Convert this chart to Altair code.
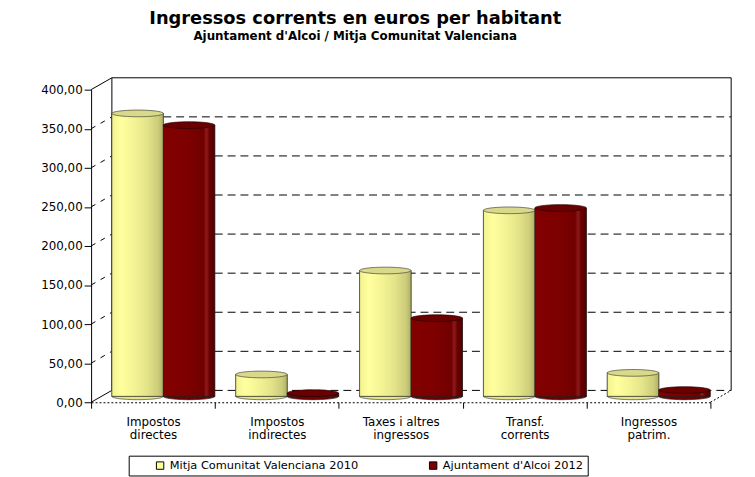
import altair as alt
import pandas as pd

# ---- data ----
categories = ["Impostos\ndirectes", "Impostos\nindirectes", "Taxes i altres\ningressos",
              "Transf.\ncorrents", "Ingressos\npatrim."]
series = ["Mitja Comunitat Valenciana 2010", "Ajuntament d'Alcoi 2012"]
cv_2010 = [362, 28, 161, 238, 30]
alcoi_2012 = [347, 4, 100, 241, 8]
y_ticks = [0, 50, 100, 150, 200, 250, 300, 350, 400]
colors = ["#ffff99", "#800000"]

rows = []
for c, a, b in zip(categories, cv_2010, alcoi_2012):
    rows.append({"cat": c, "serie": series[0], "value": a})
    rows.append({"cat": c, "serie": series[1], "value": b})
df = pd.DataFrame(rows)
ticks_df = pd.DataFrame({"v": y_ticks})

W, H = 626, 316
DX, DY = 21, -12      # depth of the 3D box
BY = -6               # bars sit half way in depth
FONT = "DejaVu Sans"

x_axis = alt.Axis(title=None, labelExpr="split(datum.label, '\\n')", labelAngle=0,
                  labelFont=FONT, labelFontSize=12, labelLineHeight=13.5,
                  labelPadding=8, labelColor="black", tickBand="extent",
                  tickSize=6, tickColor="black", domainColor="black",
                  domainDash=[2, 2], domainWidth=1, labelLimit=200)
y_axis = alt.Axis(title=None, values=y_ticks,
                  labelExpr="replace(format(datum.value, '.2f'), '.', ',')",
                  labelFont=FONT, labelFontSize=12, labelColor="black",
                  tickSize=7, tickColor="black", domainColor="black",
                  grid=False, labelPadding=2, labelOverlap=False, labelFlush=False)
y_scale = alt.Scale(domain=[0, 400], nice=False)

x_enc = alt.X("cat:N", sort=categories,
              scale=alt.Scale(paddingInner=0, paddingOuter=0), axis=x_axis)
xo_enc = alt.XOffset("serie:N", sort=series,
                     scale=alt.Scale(range=[21, 125], paddingInner=0, paddingOuter=0))
y_enc = alt.Y("value:Q", stack=None, scale=y_scale, axis=y_axis)
yv = alt.Y("v:Q", scale=y_scale, axis=y_axis)
y_top = alt.Y(datum=400, scale=y_scale, axis=y_axis)
y_zero = alt.Y(datum=0, scale=y_scale, axis=y_axis)

base_t = alt.Chart(ticks_df)

# back wall grid (dashed) and edges (solid)
grid = base_t.transform_filter("datum.v < 400").mark_rule(
    color="black", strokeWidth=1, strokeDash=[8, 5], yOffset=DY
).encode(y=yv, x=alt.value(DX), x2=alt.value(W + DX))
top_edge = base_t.transform_filter("datum.v == 400").mark_rule(
    color="black", strokeWidth=1, yOffset=DY
).encode(y=yv, x=alt.value(DX), x2=alt.value(W + DX))
left_back = base_t.transform_filter("datum.v == 0").mark_rule(
    color="black", strokeWidth=1, yOffset=DY, y2Offset=DY
).encode(x=alt.value(DX), y=y_top, y2=alt.Y2(datum=0))
right_back = base_t.transform_filter("datum.v == 0").mark_rule(
    color="black", strokeWidth=1, yOffset=DY, y2Offset=DY
).encode(x=alt.value(W + DX), y=y_top, y2=alt.Y2(datum=0))
# side wall depth lines
side_dash = base_t.transform_filter("datum.v > 0 && datum.v < 400").mark_rule(
    color="black", strokeWidth=1, strokeDash=[5, 6], y2Offset=DY
).encode(x=alt.value(0), x2=alt.value(DX), y=yv, y2=alt.Y2("v:Q"))
side_solid = base_t.transform_filter("datum.v == 0 || datum.v == 400").mark_rule(
    color="black", strokeWidth=1, y2Offset=DY
).encode(x=alt.value(0), x2=alt.value(DX), y=yv, y2=alt.Y2("v:Q"))
floor_right = base_t.transform_filter("datum.v == 0").mark_rule(
    color="black", strokeWidth=1, strokeDash=[2, 2], y2Offset=DY
).encode(x=alt.value(W), x2=alt.value(W + DX), y=yv, y2=alt.Y2("v:Q"))

ELL = "M -1 0 A 1 0.13 0 1 0 1 0 A 1 0.13 0 1 0 -1 0 Z"
BAR_W = 52

base = alt.Chart(df)

bars_plain = base.mark_bar(yOffset=BY, y2Offset=BY, stroke="#222", strokeWidth=0.6).encode(
    x=x_enc, xOffset=xo_enc, y=y_enc, y2=alt.Y2(datum=0),
    color=alt.Color("serie:N", sort=series,
                    scale=alt.Scale(domain=series, range=colors),
                    legend=alt.Legend(orient="none", legendX=38, legendY=370,
                                      direction="horizontal", title=None,
                                      symbolType="square", symbolSize=56,
                                      symbolStrokeColor="black", symbolStrokeWidth=1,
                                      labelFontSize=11.5, labelFont=FONT, labelColor="black",
                                      labelLimit=400,
                                      strokeColor="black", fillColor="white", padding=4,
                                      columnPadding=47, symbolOffset=22, labelOffset=4)))

grads = [
    [("#f2f28f", 0.0), ("#ffff9e", 0.18), ("#f3f394", 0.45), ("#e2e289", 0.7),
     ("#cccc7a", 0.9), ("#b0b066", 1.0)],
    [("#830000", 0.0), ("#7d0000", 0.5), ("#700000", 0.78), ("#8e1a1a", 0.84),
     ("#680000", 0.9), ("#520000", 1.0)],
]
cap_fill = ["#d9d98c", "#6a0000"]
cap_stroke = ["#444433", "#2a0000"]
bottom_fill = ["#e4e48c", "#700000"]

layers = [grid, top_edge, left_back, right_back, side_dash, side_solid, floor_right]

for i, s in enumerate(series):
    sub = base.transform_filter(alt.datum.serie == s)
    layers.append(sub.mark_point(shape=ELL, size=BAR_W * BAR_W, filled=True,
                                 fill=bottom_fill[i], stroke=cap_stroke[i],
                                 strokeWidth=0.7, opacity=1, yOffset=BY).encode(
        x=x_enc, xOffset=xo_enc, y=y_zero))

layers.append(bars_plain)

for i, s in enumerate(series):
    sub = base.transform_filter(alt.datum.serie == s)
    grad = alt.LinearGradient(gradient="linear",
                              stops=[alt.GradientStop(color=c, offset=o) for c, o in grads[i]],
                              x1=0, x2=1, y1=0, y2=0)
    layers.append(sub.mark_bar(fill=grad, stroke="#222", strokeWidth=0.6,
                               yOffset=BY, y2Offset=BY).encode(
        x=x_enc, xOffset=xo_enc, y=y_enc, y2=alt.Y2(datum=0)))
    layers.append(sub.mark_point(shape=ELL, size=BAR_W * BAR_W, filled=True,
                                 fill=cap_fill[i], stroke=cap_stroke[i],
                                 strokeWidth=0.7, opacity=1, yOffset=BY).encode(
        x=x_enc, xOffset=xo_enc, y=y_enc))

chart = alt.layer(*layers).properties(
    width=W, height=H,
    autosize=alt.AutoSizeParams(type="none"),
    padding={"left": 84, "top": 80, "right": 37, "bottom": 73},
    title=alt.TitleParams(text="Ingressos corrents en euros per habitant",
                          subtitle="Ajuntament d'Alcoi / Mitja Comunitat Valenciana",
                          font=FONT, subtitleFont=FONT, fontSize=18, subtitleFontSize=12,
                          fontWeight="bold", subtitleFontWeight="bold",
                          color="black", subtitleColor="black",
                          anchor="middle", dx=-46, offset=36, subtitlePadding=3),
).configure(font=FONT, background="white").configure_view(stroke=None).configure_axis(
    labelOverlap=False)

chart.save("out.html", embed_options={"renderer": "svg", "actions": False})
